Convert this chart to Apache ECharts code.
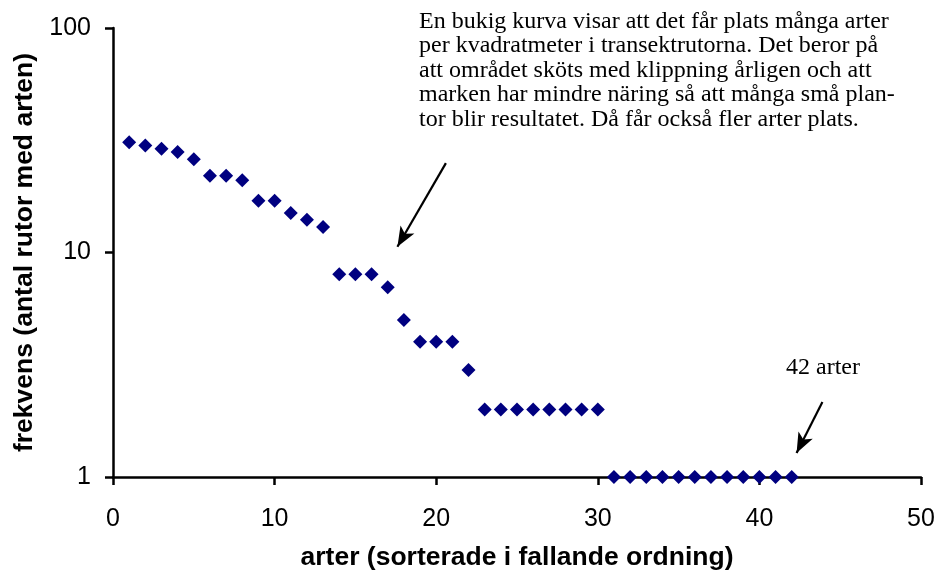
<!DOCTYPE html>
<html><head><meta charset="utf-8">
<script src="https://cdn.jsdelivr.net/npm/echarts@6/dist/echarts.min.js"></script>
<style>html,body{margin:0;padding:0;background:#fff}#c{width:936px;height:571px}</style>
</head><body><div id="c"></div>
<script>
const ranks = Array.from({length: 42}, (_, i) => i + 1);
const frequency = [31,30,29,28,26,22,22,21,17,17,15,14,13,8,8,8,7,5,4,4,4,3,2,2,2,2,2,2,2,2,1,1,1,1,1,1,1,1,1,1,1,1];
const xTitle = 'arter (sorterade i fallande ordning)';
const yTitle = 'frekvens (antal rutor med arten)';
const noteMain = ['En bukig kurva visar att det får plats många arter','per kvadratmeter i transektrutorna. Det beror på','att området sköts med klippning årligen och att','marken har mindre näring så att många små plan-','tor blir resultatet. Då får också fler arter plats.'];
const noteCount = '42 arter';
const arrowMain = [[20.6, 25.0], [17.6, 10.6]];
const arrowCount = [[43.9, 2.16], [42.3, 1.28]];

const chart = echarts.init(document.getElementById('c'));
const axisLine = {show: true, lineStyle: {color: '#000', width: 2.5}};
const arrowStyle = {color: '#000', width: 2.2, type: 'solid'};
const sans = '"Liberation Sans", Arial, sans-serif';
const serif = '"Liberation Serif", "Times New Roman", serif';
chart.setOption({
  animation: false,
  grid: {left: 113, top: 28, right: 15, bottom: 94, containLabel: false, outerBoundsMode: 'none'},
  xAxis: {type: 'value', min: 0, max: 50, interval: 10,
    axisLine: axisLine, axisTick: {show: true, length: 8, lineStyle: {color: '#000', width: 2.5}},
    splitLine: {show: false},
    axisLabel: {color: '#000', fontFamily: sans, fontSize: 25, margin: 30},
    name: xTitle, nameLocation: 'middle', nameGap: 67,
    nameTextStyle: {color: '#000', fontFamily: sans, fontSize: 26.5, fontWeight: 'bold'}},
  yAxis: {type: 'log', logBase: 10, min: 1, max: 100,
    axisLine: axisLine, axisTick: {show: true, length: 8, lineStyle: {color: '#000', width: 2.5}},
    minorTick: {show: false}, splitLine: {show: false},
    axisLabel: {color: '#000', fontFamily: sans, fontSize: 25, margin: 22},
    name: yTitle, nameLocation: 'middle', nameGap: 72,
    nameTextStyle: {color: '#000', fontFamily: sans, fontSize: 26.5, fontWeight: 'bold'}},
  series: [{
    type: 'scatter', symbol: 'diamond', symbolSize: [14, 14],
    itemStyle: {color: '#000080', opacity: 1},
    data: ranks.map((r, i) => [r, frequency[i]]),
    markLine: {silent: true, symbol: ['none', 'arrow'], symbolSize: [12, 20], label: {show: false},
      lineStyle: arrowStyle,
      data: [
        [{coord: arrowMain[0]}, {coord: arrowMain[1]}],
        [{coord: arrowCount[0]}, {coord: arrowCount[1]}]
      ]}
  }],
  graphic: [
    {type: 'text', left: 419, top: 9, style: {text: noteMain.join('\n'), fill: '#000',
      font: '24px ' + serif, lineHeight: 24.5}},
    {type: 'text', left: 786, top: 356, style: {text: noteCount, fill: '#000',
      font: '24px ' + serif}}
  ]
});
</script></body></html>
